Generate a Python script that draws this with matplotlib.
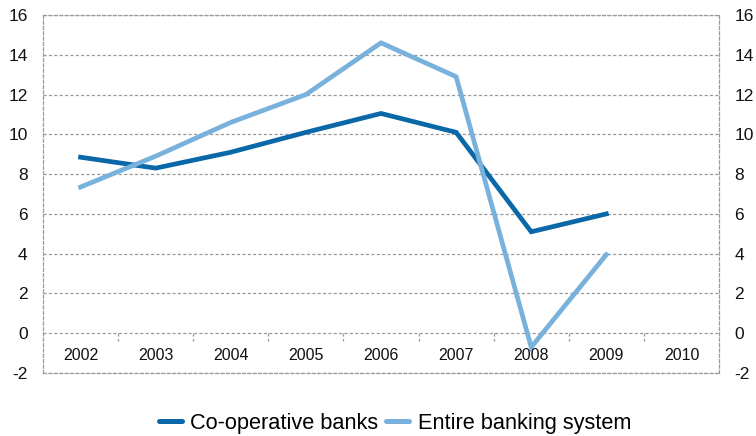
import matplotlib
matplotlib.use("Agg")
import matplotlib.pyplot as plt
import numpy as np

plt.rcParams['font.family'] = ['Liberation Sans', 'DejaVu Sans']

years = ['2002', '2003', '2004', '2005', '2006', '2007', '2008', '2009', '2010']
coop = [8.85, 8.3, 9.1, 10.1, 11.05, 10.1, 5.1, 6.0]
entire = [7.35, 8.9, 10.6, 12.0, 14.6, 12.9, -0.7, 3.95]
yticks = [-2, 0, 2, 4, 6, 8, 10, 12, 14, 16]

dark = '#0a68a8'
light = '#78b1dc'
grid_c = '#9a9a9a'

fig = plt.figure(figsize=(7.56, 4.36), dpi=100)
ax = fig.add_axes([43/756, 1-373/436, (719-43)/756, (373-15)/436])

x = np.arange(len(years))
ax.plot(x[:len(coop)], coop, color=dark, lw=3.4, solid_joinstyle='miter', label='Co-operative banks', zorder=3)
ax.plot(x[:len(entire)], entire, color=light, lw=3.4, solid_joinstyle='miter', label='Entire banking system', zorder=3)

ax.set_xlim(-0.5, len(years) - 0.5)
ax.set_ylim(-2, 16)

dash = (0, (2.5, 1.8))
for yv in yticks:
    ax.axhline(yv, color=grid_c, lw=0.9, ls=dash, zorder=1)
for s in ax.spines.values():
    s.set_visible(True)
    s.set_color(grid_c)
    s.set_linewidth(0.9)
    s.set_linestyle(dash)

# category separator ticks on the zero line
for xv in np.arange(0.5, len(years) - 1, 1.0):
    ax.plot([xv, xv], [0, -0.4], color=grid_c, lw=0.9, ls=dash, zorder=1)

for i, lab in enumerate(years):
    ax.text(i, -1.1, lab, ha='center', va='center', fontsize=11.5, color='#111111')

ax.set_xticks([])
ax.set_yticks(yticks)
ax.set_yticklabels([str(v) for v in yticks], fontsize=12.5)
ax.tick_params(axis='y', length=0, pad=11, labelleft=True, labelright=True, colors='#111111')

leg = fig.legend(loc='lower center', bbox_to_anchor=(395/756, -0.04), ncol=2, frameon=False,
                 fontsize=15.7, handlelength=1.05, handletextpad=0.4, columnspacing=0.35)
for h in leg.get_lines():
    h.set_solid_capstyle('round')
    h.set_linewidth(3.6)

fig.savefig('out.png', dpi=100)
